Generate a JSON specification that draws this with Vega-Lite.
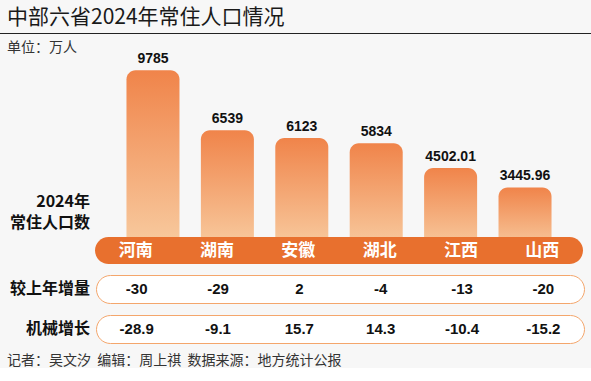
{
  "$schema": "https://vega.github.io/schema/vega-lite/v6.json",
  "background": "#f7f7f7",
  "padding": {"left": 0, "top": 7, "right": 0, "bottom": 0},
  "config": {
    "view": {"stroke": null},
    "font": "Noto Sans CJK SC",
    "concat": {"spacing": 0}
  },
  "datasets": {
    "prov": [
      {"province": "河南", "population": 9785, "increase": -30, "mechanical": -28.9},
      {"province": "湖南", "population": 6539, "increase": -29, "mechanical": -9.1},
      {"province": "安徽", "population": 6123, "increase": 2, "mechanical": 15.7},
      {"province": "湖北", "population": 5834, "increase": -4, "mechanical": 14.3},
      {"province": "江西", "population": 4502.01, "increase": -13, "mechanical": -10.4},
      {"province": "山西", "population": 3445.96, "increase": -20, "mechanical": -15.2}
    ]
  },
  "title": {
    "text": "中部六省2024年常住人口情况",
    "anchor": "start",
    "dx": 7,
    "fontSize": 21,
    "fontWeight": "normal",
    "color": "#1a1a1a",
    "offset": 5,
    "font": "Noto Sans CJK SC"
  },
  "vconcat": [
    {
      "width": 591,
      "height": 1,
      "view": {"fill": "#222222", "stroke": null},
      "data": {"values": []},
      "mark": "text",
      "encoding": {}
    },
    {
      "spacing": 0,
      "hconcat": [
        {
          "width": 95,
          "height": 203,
          "layer": [
            {
              "data": {"values": [{"label": "单位：万人"}]},
              "mark": {"type": "text", "align": "left", "baseline": "top", "dx": 7, "dy": 7, "fontSize": 14, "color": "#333333"},
              "encoding": {"text": {"field": "label"}, "x": {"value": 0}, "y": {"value": 0}}
            },
            {
              "data": {"values": [{"label": "2024年\n常住人口数"}]},
              "mark": {"type": "text", "align": "right", "baseline": "bottom", "lineBreak": "\n", "lineHeight": 21, "dx": -5, "dy": -27, "fontSize": 16, "fontWeight": "bold", "color": "#111111"},
              "encoding": {"text": {"field": "label"}, "x": {"value": "width"}, "y": {"value": "height"}}
            }
          ]
        },
        {
          "width": 488,
          "height": 203,
          "data": {"name": "prov"},
          "encoding": {
            "x": {"field": "province", "type": "nominal", "sort": null, "scale": {"paddingInner": 0.2876, "paddingOuter": 0.423}, "axis": null},
            "y": {"field": "population", "type": "quantitative", "scale": {"domain": [765, 11750], "zero": false}, "axis": null}
          },
          "layer": [
            {
              "mark": {
                "type": "bar",
                "clip": true,
                "cornerRadiusTopLeft": 9,
                "cornerRadiusTopRight": 9,
                "color": {
                  "gradient": "linear",
                  "x1": 0, "y1": 0, "x2": 0, "y2": 1,
                  "stops": [
                    {"offset": 0, "color": "#f0844a"},
                    {"offset": 1, "color": "#f8cda2"}
                  ]
                }
              },
              "encoding": {"y2": {"datum": 0}}
            },
            {
              "mark": {"type": "text", "baseline": "alphabetic", "dy": -7, "fontSize": 14, "fontWeight": "bold", "font": "Liberation Sans", "color": "#111111"},
              "encoding": {"text": {"field": "population", "type": "nominal"}}
            }
          ]
        }
      ]
    },
    {
      "spacing": 10,
      "title": {
        "text": "记者：吴文汐\u00a0\u00a0编辑：周上祺\u00a0\u00a0数据来源：地方统计公报",
        "orient": "bottom",
        "anchor": "start",
        "dx": 7,
        "offset": 10,
        "fontSize": 14,
        "fontWeight": "normal",
        "color": "#333333",
        "font": "Noto Sans CJK SC"
      },
      "vconcat": [
        {
          "spacing": 0,
          "hconcat": [
            {
              "width": 95,
              "height": 27,
              "data": {"values": []},
              "mark": "text",
              "encoding": {}
            },
            {
              "width": 488,
              "height": 27,
              "view": {"fill": "#e8702e", "stroke": null, "cornerRadius": 13.5},
              "data": {"name": "prov"},
              "mark": {"type": "text", "baseline": "middle", "fontSize": 17, "fontWeight": "bold", "color": "#ffffff"},
              "encoding": {
                "x": {"field": "province", "type": "nominal", "sort": null, "scale": {"paddingInner": 0.2876, "paddingOuter": 0.423}, "axis": null},
                "text": {"field": "province"}
              }
            }
          ]
        },
        {
          "spacing": 0,
          "hconcat": [
            {
              "width": 95,
              "height": 28,
              "data": {"values": [{"label": "较上年增量"}]},
              "mark": {"type": "text", "align": "right", "baseline": "middle", "dx": -5, "fontSize": 16, "fontWeight": "bold", "color": "#111111"},
              "encoding": {"text": {"field": "label"}, "x": {"value": "width"}}
            },
            {
              "width": 488,
              "height": 28,
              "view": {"fill": "#ffffff", "stroke": "#f4a66c", "strokeWidth": 1, "cornerRadius": 14},
              "data": {"name": "prov"},
              "mark": {"type": "text", "baseline": "middle", "fontSize": 15, "fontWeight": "bold", "font": "Liberation Sans", "color": "#111111"},
              "encoding": {
                "x": {"field": "province", "type": "nominal", "sort": null, "scale": {"paddingInner": 0.2876, "paddingOuter": 0.423}, "axis": null},
                "text": {"field": "increase", "type": "nominal"}
              }
            }
          ]
        },
        {
          "spacing": 0,
          "hconcat": [
            {
              "width": 95,
              "height": 28,
              "data": {"values": [{"label": "机械增长"}]},
              "mark": {"type": "text", "align": "right", "baseline": "middle", "dx": -5, "fontSize": 16, "fontWeight": "bold", "color": "#111111"},
              "encoding": {"text": {"field": "label"}, "x": {"value": "width"}}
            },
            {
              "width": 488,
              "height": 28,
              "view": {"fill": "#ffffff", "stroke": "#f4a66c", "strokeWidth": 1, "cornerRadius": 14},
              "data": {"name": "prov"},
              "mark": {"type": "text", "baseline": "middle", "fontSize": 15, "fontWeight": "bold", "font": "Liberation Sans", "color": "#111111"},
              "encoding": {
                "x": {"field": "province", "type": "nominal", "sort": null, "scale": {"paddingInner": 0.2876, "paddingOuter": 0.423}, "axis": null},
                "text": {"field": "mechanical", "type": "nominal"}
              }
            }
          ]
        }
      ]
    }
  ]
}
